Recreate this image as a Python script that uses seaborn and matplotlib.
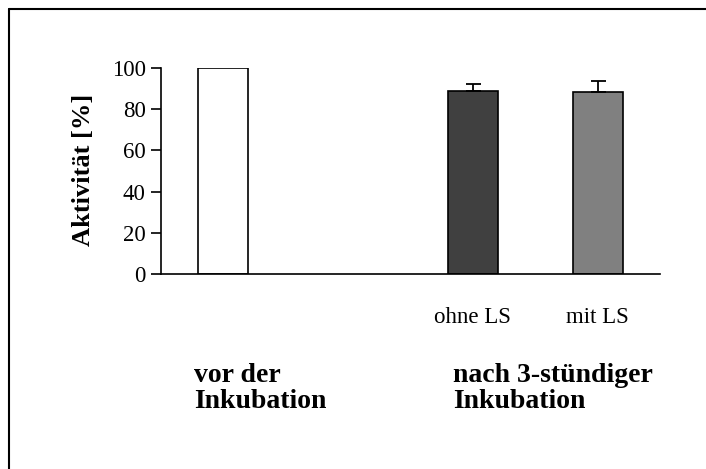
import matplotlib
matplotlib.use("Agg")
import matplotlib.pyplot as plt
from matplotlib.lines import Line2D
import seaborn as sns
import pandas as pd

# Data
categories = ["vor der Inkubation", "leer", "ohne LS", "mit LS"]
bar_categories = ["vor der Inkubation", "ohne LS", "mit LS"]
values = [100.0, 89.0, 88.2]
errors_upper = [0.0, 3.0, 5.5]
tick_labels = ["", "", "ohne LS", "mit LS"]
bar_colors = ["#ffffff", "#404040", "#808080"]
group_labels_left = ["vor der", "Inkubation"]
group_labels_right = ["nach 3-stündiger", "Inkubation"]
y_ticks = [0, 20, 40, 60, 80, 100]
y_label = "Aktivität [%]"

sns.set_style("white")
plt.rcParams["font.family"] = ["Liberation Serif", "DejaVu Serif"]
plt.rcParams["text.color"] = "black"
plt.rcParams["axes.labelcolor"] = "black"
plt.rcParams["xtick.color"] = "black"
plt.rcParams["ytick.color"] = "black"

W, H = 706, 469
fig = plt.figure(figsize=(W / 100, H / 100), dpi=100)
ax = fig.add_axes([161 / W, 1 - 274 / H, (660 - 161) / W, (274 - 68) / H])

df = pd.DataFrame({"cat": bar_categories, "val": values})
sns.barplot(data=df, x="cat", y="val", hue="cat", order=categories,
            hue_order=bar_categories, palette=bar_colors, legend=False,
            width=0.4, edgecolor="black", linewidth=1.2, errorbar=None, ax=ax)

# upper error bars for the incubated samples
xpos = [categories.index(c) for c in bar_categories]
ax.errorbar(xpos[1:], values[1:], yerr=[[0] * 2, errors_upper[1:]], fmt="none",
            ecolor="black", elinewidth=1.3, capsize=5.4, capthick=1.3)

ax.set_xlim(-0.5, 3.5)
ax.set_ylim(0, 100)
ax.set_yticks(y_ticks)
ax.set_yticklabels([str(t) for t in y_ticks], fontsize=16.5, color="black")
ax.set_xticks(range(len(categories)))
ax.set_xticklabels(tick_labels, fontsize=16.5, color="black")
ax.tick_params(axis="x", length=0, pad=24)
ax.tick_params(axis="y", direction="out", length=7, width=1.2, left=True, pad=4,
               colors="black")
ax.set_xlabel("")
ax.set_ylabel(y_label, fontsize=19, fontweight="bold", color="black")
ax.yaxis.set_label_coords(-0.155, 0.505)
ax.yaxis.label.set_verticalalignment("center")

for s in ["top", "right"]:
    ax.spines[s].set_visible(False)
for s in ["left", "bottom"]:
    ax.spines[s].set_color("black")
    ax.spines[s].set_linewidth(1.2)

# group labels below axis
for i, t in enumerate(group_labels_left):
    fig.text(194 / W, 1 - (382 + 26 * i) / H, t, fontsize=20, fontweight="bold",
             ha="left", va="baseline", color="black")
for i, t in enumerate(group_labels_right):
    fig.text(453 / W, 1 - (382 + 26 * i) / H, t, fontsize=20, fontweight="bold",
             ha="left", va="baseline", color="black")

# outer frame (top and left visible)
fig.add_artist(Line2D([9 / W, 1.0], [1 - 9 / H, 1 - 9 / H], color="black", lw=1.5,
                      transform=fig.transFigure))
fig.add_artist(Line2D([9 / W, 9 / W], [0.0, 1 - 9 / H], color="black", lw=1.5,
                      transform=fig.transFigure))

fig.savefig("out.png", dpi=100)
